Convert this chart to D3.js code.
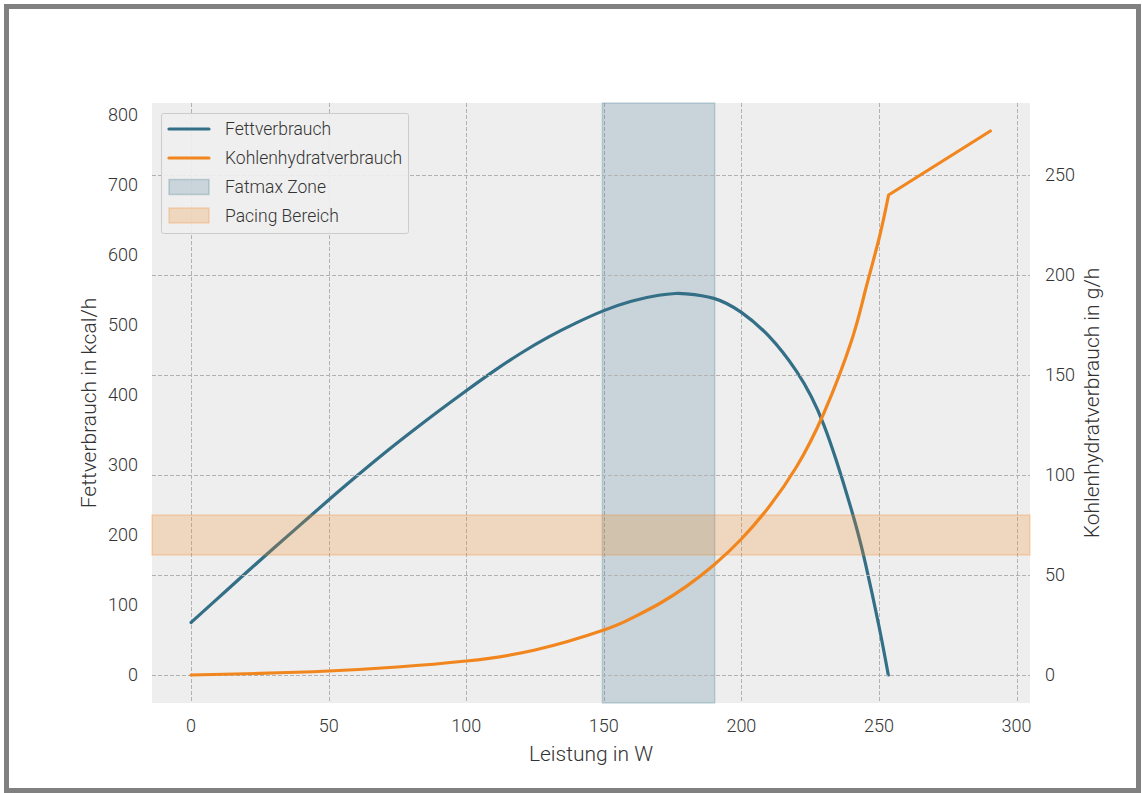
<!DOCTYPE html>
<html><head><meta charset="utf-8">
<script src="https://cdn.jsdelivr.net/npm/d3@7"></script>
<style>
html,body{margin:0;padding:0;background:#fff;}
svg{display:block;font-family:Roboto,"Noto Sans",sans-serif;font-weight:300;}
</style></head>
<body><svg id="c" width="1142" height="793"></svg>
<script>
// ---- data ----
const fatW    = [0,10,20,30,40,50,60,70,80,90,100,110,120,130,140,150,160,170,176,180,190,200,210,220,230,240,245,250,253.4];
const fatKcal = [75,110.5,146,181,215.5,250,283.5,316,347,377,406,434,460,483,503,520.5,534,542.5,545,544.5,538,518,484,434,357,236,161,70,0];
const carbW   = [0,25,50,75,100,125,150,160,170,180,190,200,210,220,230,240,245,250,253.5,290.5];
const carbGh  = [0,0.8,2,4,7,12.5,22.5,28.3,35.5,44.3,55,68,84,104,131,167,192,218,240,272];
const xTicks  = [0,50,100,150,200,250,300];
const yLeftTicks  = [0,100,200,300,400,500,600,700,800];
const yRightTicks = [0,50,100,150,200,250];
const fatmaxZone  = [149.5,190.3];   // W
const pacingZone  = [60,80];         // g/h
const legendItems = ["Fettverbrauch","Kohlenhydratverbrauch","Fatmax Zone","Pacing Bereich"];
const kneeW = 253.5;

// ---- layout ----
const svg = d3.select("#c");
const L=152, R=1030, T=103, B=703;
const blue="#336f86", orange="#f2861e";
const x  = d3.scaleLinear().domain([-14.2,304.9]).range([L,R]);
const yL = d3.scaleLinear().domain([-40,817.1]).range([B,T]);
const yR = d3.scaleLinear().domain([-14,286]).range([B,T]);

// outer frame
svg.append("rect").attr("x",6.5).attr("y",6.5).attr("width",1132).attr("height",784)
  .attr("fill","#fff").attr("stroke","#808080").attr("stroke-width",5);

// plot background
svg.append("rect").attr("x",L).attr("y",T).attr("width",R-L).attr("height",B-T).attr("fill","#eeeeee");

const grid = {stroke:"#b2b2b2","stroke-width":1,"stroke-dasharray":"4,2"};
function applyAttrs(sel,o){for(const k in o) sel.attr(k,o[k]); return sel;}

// vertical grid
applyAttrs(svg.append("g").selectAll("line").data(xTicks).join("line")
  .attr("x1",d=>Math.round(x(d))+0.5).attr("x2",d=>Math.round(x(d))+0.5).attr("y1",T).attr("y2",B), grid);

// fatmax zone
svg.append("rect").attr("x",x(fatmaxZone[0])).attr("width",x(fatmaxZone[1])-x(fatmaxZone[0]))
  .attr("y",T).attr("height",B-T).attr("fill",blue).attr("fill-opacity",0.2)
  .attr("stroke",blue).attr("stroke-opacity",0.25).attr("stroke-width",1.5);

// fat line
const fatData = fatW.map((w,i)=>[w,fatKcal[i]]);
svg.append("path").attr("d", d3.line().x(d=>x(d[0])).y(d=>yL(d[1])).curve(d3.curveNatural)(fatData))
  .attr("fill","none").attr("stroke",blue).attr("stroke-width",3.2).attr("stroke-linecap","round");

// horizontal grid (right axis)
applyAttrs(svg.append("g").selectAll("line").data(yRightTicks).join("line")
  .attr("y1",d=>Math.round(yR(d))+0.5).attr("y2",d=>Math.round(yR(d))+0.5).attr("x1",L).attr("x2",R), grid);

// pacing zone
svg.append("rect").attr("x",L).attr("width",R-L)
  .attr("y",yR(pacingZone[1])).attr("height",yR(pacingZone[0])-yR(pacingZone[1]))
  .attr("fill",orange).attr("fill-opacity",0.23)
  .attr("stroke",orange).attr("stroke-opacity",0.25).attr("stroke-width",1.5);

// carb line (smooth until knee, straight after)
const carbData = carbW.map((w,i)=>[w,carbGh[i]]);
const carbA = carbData.filter(d=>d[0]<=kneeW), carbB = carbData.filter(d=>d[0]>=kneeW);
const smooth = d3.line().x(d=>x(d[0])).y(d=>yR(d[1])).curve(d3.curveNatural);
const straight = d3.line().x(d=>x(d[0])).y(d=>yR(d[1]));
svg.append("path").attr("d", smooth(carbA) + straight(carbB).replace(/^M/,"L"))
  .attr("fill","none").attr("stroke",orange).attr("stroke-width",3.2).attr("stroke-linecap","round").attr("stroke-linejoin","round");

// tick labels
const tc="#333";
svg.append("g").selectAll("text").data(xTicks).join("text")
  .attr("x",d=>x(d)).attr("y",732).attr("text-anchor","middle").attr("font-size",18).attr("fill",tc).text(d=>d);
svg.append("g").selectAll("text").data(yLeftTicks).join("text")
  .attr("x",138).attr("y",d=>yL(d)).attr("dy","0.35em").attr("text-anchor","end").attr("font-size",18).attr("fill",tc).text(d=>d);
svg.append("g").selectAll("text").data(yRightTicks).join("text")
  .attr("x",1045).attr("y",d=>yR(d)).attr("dy","0.35em").attr("text-anchor","start").attr("font-size",18).attr("fill",tc).text(d=>d);

// axis titles
svg.append("text").attr("x",(L+R)/2).attr("y",761).attr("text-anchor","middle").attr("font-size",21).attr("fill",tc).text("Leistung in W");
svg.append("text").attr("transform",`translate(96,${(T+B)/2}) rotate(-90)`).attr("text-anchor","middle").attr("font-size",21).attr("fill",tc).text("Fettverbrauch in kcal/h");
svg.append("text").attr("transform",`translate(1099,${(T+B)/2}) rotate(-90)`).attr("text-anchor","middle").attr("font-size",21).attr("fill",tc).text("Kohlenhydratverbrauch in g/h");

// legend
const lg = svg.append("g");
lg.append("rect").attr("x",161.5).attr("y",113.5).attr("width",247).attr("height",120).attr("rx",2)
  .attr("fill","#eeeeee").attr("fill-opacity",0.9).attr("stroke","#cccccc").attr("stroke-width",1);
const rowY = [129,158,187,215.5];
legendItems.forEach((name,i)=>{
  const y=rowY[i];
  if(i<2){
    lg.append("line").attr("x1",169).attr("x2",209).attr("y1",y).attr("y2",y)
      .attr("stroke",i===0?blue:orange).attr("stroke-width",3.2).attr("stroke-linecap","round");
  } else {
    const c=i===2?blue:orange;
    lg.append("rect").attr("x",169).attr("y",y-7.5).attr("width",40).attr("height",15)
      .attr("fill",c).attr("fill-opacity",i===2?0.2:0.23).attr("stroke",c).attr("stroke-opacity",0.25).attr("stroke-width",1.5);
  }
  lg.append("text").attr("x",225).attr("y",y).attr("dy","0.35em").attr("font-size",17.5).attr("fill",tc).text(name);
});
</script></body></html>
